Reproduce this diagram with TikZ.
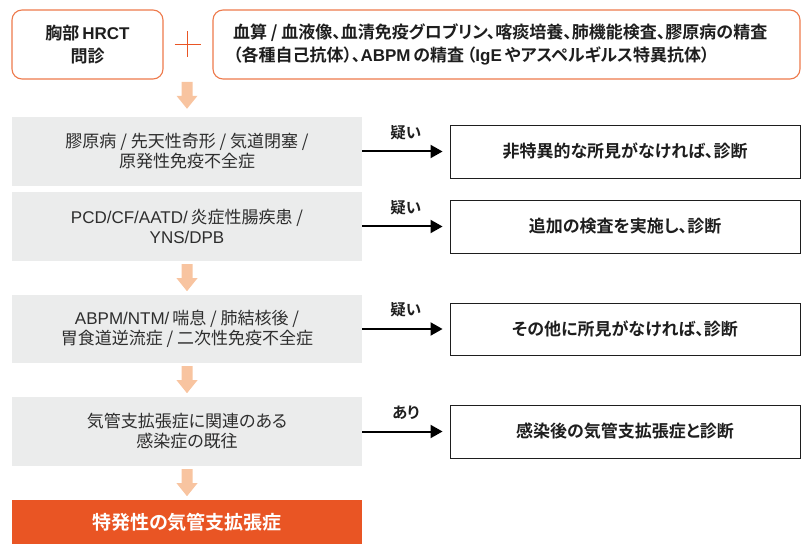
\documentclass[tikz,border=0pt]{standalone}
\usepackage{fontspec}
\setmainfont{Noto Sans CJK JP}[BoldFont={Noto Sans CJK JP Bold},RawFeature=+palt]
\newfontfamily\lat{Liberation Sans}
\usetikzlibrary{arrows.meta,calc}
\definecolor{orangeline}{HTML}{EE7A4C}
\definecolor{orangefill}{HTML}{E95524}
\definecolor{peach}{HTML}{F8C4A0}
\definecolor{graybox}{HTML}{EBECEC}
\definecolor{textgray}{HTML}{2E2E2E}
\definecolor{textdark}{HTML}{1E1E1E}
\tikzset{
  topbox/.style={draw=orangeline, line width=1.1pt, rounded corners=10pt, fill=white, minimum height=69pt, align=center, font=\fontsize{17}{22.5}\selectfont\bfseries, text=textdark, inner sep=0pt},
  graystep/.style={fill=graybox, minimum width=350pt, minimum height=69pt, align=center, font=\fontsize{17}{20}\selectfont, text=textgray, inner sep=0pt},
  resultbox/.style={draw=textdark, line width=0.9pt, fill=white, minimum width=350pt, minimum height=53pt, align=center, font=\fontsize{17}{20}\selectfont\bfseries, text=textdark, inner sep=0pt},
  finalbox/.style={fill=orangefill, minimum width=350pt, minimum height=44pt, align=center, font=\fontsize{19}{22}\selectfont\bfseries, text=white, inner sep=0pt},
  flowarrow/.style={draw=black, line width=2pt, -{Triangle[length=12pt,width=13pt]}, shorten >=7pt},
  armlabel/.style={font=\fontsize{15.5}{18}\selectfont\bfseries, text=textdark, above=11pt, inner sep=0pt},
  downarrow/.pic={\fill[peach] (-5.5,0) -- (5.5,0) -- (5.5,14) -- (10.5,14) -- (0,27) -- (-10.5,14) -- (-5.5,14) -- cycle;}
}
\begin{document}
\begin{tikzpicture}[x=1pt,y=-1pt]
\useasboundingbox (0,0) rectangle (803,545);
% top row
\node[topbox, minimum width=151pt] (hrct) at (87.5,44.5) {胸部\,{\lat HRCT}\\問診};
\node[topbox, text width=547pt, inner xsep=20pt, align=flush left] (labs) at (506.5,44.5) {血算 / 血液像、血清免疫グロブリン、喀痰培養、肺機能検査、膠原病の精査\\（各種自己抗体）、{\lat ABPM}\,の精査\,（{\lat IgE}\,やアスペルギルス特異抗体）};
\coordinate (plus) at (187.5,44.5);
\draw[orangefill, line width=1.8pt] ($(plus)+(-13,0)$) -- ($(plus)+(13,0)$) ($(plus)+(0,-13)$) -- ($(plus)+(0,13)$);
% gray steps
\node[graystep] (g1) at (187,151.5) {膠原病 / 先天性奇形 / 気道閉塞 /\\原発性免疫不全症};
\node[graystep] (g2) at (187,226.5) {{\lat PCD/CF/AATD/}\,炎症性腸疾患 /\\{\lat YNS/DPB}};
\node[graystep, minimum height=68pt] (g3) at (187,329) {{\lat ABPM/NTM/}\,喘息 / 肺結核後 /\\胃食道逆流症 / 二次性免疫不全症};
\node[graystep] (g4) at (187,431.5) {気管支拡張症に関連のある\\感染症の既往};
\node[finalbox] (fin) at (187,522) {特発性の気管支拡張症};
% peach arrows
\pic at ($(g1.north)+(0,-35)$) {downarrow};
\pic at ($(g2.south)+(0,3)$) {downarrow};
\pic at ($(g3.south)+(0,3)$) {downarrow};
\pic at ($(g4.south)+(0,3)$) {downarrow};
% result boxes
\node[resultbox] (r1) at (625,151.5) {非特異的な所見がなければ、診断};
\node[resultbox] (r2) at (625,226.5) {追加の検査を実施し、診断};
\node[resultbox, minimum height=52pt] (r3) at (625,329) {その他に所見がなければ、診断};
\node[resultbox] (r4) at (625,431.5) {感染後の気管支拡張症と診断};
% connectors
\draw[flowarrow] (g1.east) -- node[armlabel] (l1) {疑い} (r1.west);
\draw[flowarrow] (g2.east) -- node[armlabel] (l2) {疑い} (r2.west);
\draw[flowarrow] (g3.east) -- node[armlabel] (l3) {疑い} (r3.west);
\draw[flowarrow] (g4.east) -- node[armlabel] (l4) {あり} (r4.west);
\end{tikzpicture}
\end{document}
